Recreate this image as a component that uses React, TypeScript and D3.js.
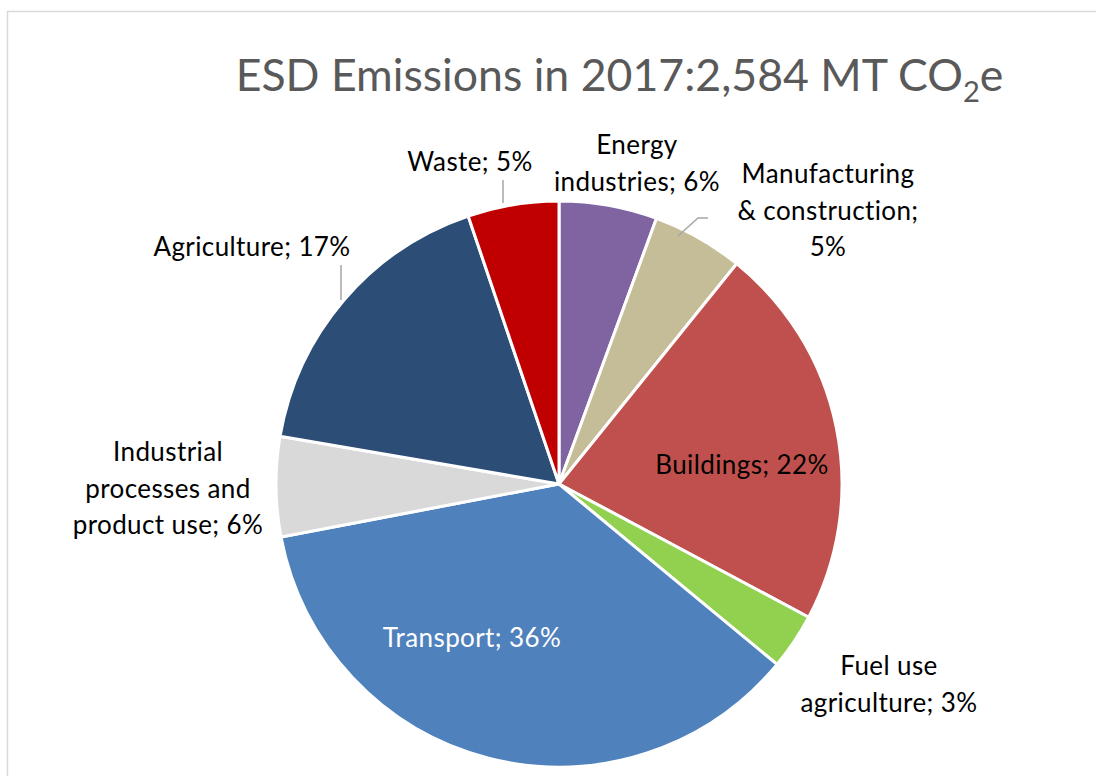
import React from "react";
import * as d3 from "d3";

const categories = [
  "Energy industries",
  "Manufacturing & construction",
  "Buildings",
  "Fuel use agriculture",
  "Transport",
  "Industrial processes and product use",
  "Agriculture",
  "Waste",
];
const values = [5.6, 5.2, 22.0, 3.2, 36.0, 5.7, 17.1, 5.2];
const percentLabels = ["6%", "5%", "22%", "3%", "36%", "6%", "17%", "5%"];
const colors = ["#8064A2", "#C4BD97", "#C0504D", "#92D050", "#4F81BD", "#D9D9D9", "#2C4D75", "#C00000"];

// label layout (lines and positions), separate from data
const labelLines = [
  ["Energy", "industries; 6%"],
  ["Manufacturing", "& construction;", "5%"],
  ["Buildings; 22%"],
  ["Fuel use", "agriculture; 3%"],
  ["Transport; 36%"],
  ["Industrial", "processes and", "product use; 6%"],
  ["Agriculture; 17%"],
  ["Waste; 5%"],
];
const labelXY: [number, number][] = [
  [637, 145],
  [828, 174],
  [742, 465],
  [889, 666],
  [472, 638],
  [168, 452],
  [252, 247],
  [470, 162],
];
const labelFill = ["#000", "#000", "#000", "#000", "#fff", "#000", "#000", "#000"];
const leaders: [number, number][][] = [
  [[678, 236], [698, 218], [708, 218]],
  [[341, 300], [341, 265]],
  [[503, 203], [503, 180]],
];

export default function App() {
  const W = 1096, H = 776;
  const cx = 559, cy = 484, r = 283;
  const pie = d3.pie<number>().sort(null).value((d) => d)(values);
  const arc = d3.arc<d3.PieArcDatum<number>>().innerRadius(0).outerRadius(r);
  const line = d3.line();
  const font = "Lato, 'Open Sans', sans-serif";
  const lh = 36.5;
  return (
    <svg width={W} height={H} style={{ position: "absolute", left: 0, top: 0 }}>
      <rect x={0} y={0} width={W} height={H} fill="#fff" />
      <rect x={7.5} y={11.5} width={W + 20} height={H + 20} fill="none" stroke="#D9D9D9" strokeWidth={1.5} />
      <text x={619.5} y={91} textAnchor="middle" fontFamily={font} fontSize={44.6} fill="#595959">
        ESD Emissions in 2017:2,584 MT CO
        <tspan dy={11} fontSize={29}>2</tspan>
        <tspan dy={-11}>e</tspan>
      </text>
      <g transform={`translate(${cx},${cy})`}>
        {pie.map((p, i) => (
          <path key={categories[i]} d={arc(p) || ""} fill={colors[i]} stroke="#fff" strokeWidth={3} strokeLinejoin="round" />
        ))}
      </g>
      {leaders.map((pts, i) => (
        <path key={i} d={line(pts) || ""} fill="none" stroke="#A6A6A6" strokeWidth={1.5} />
      ))}
      {labelLines.map((ls, i) => (
        <text key={i} textAnchor="middle" fontFamily={font} fontSize={26} letterSpacing={0.4} fill={labelFill[i]}>
          {ls.map((t, j) => (
            <tspan key={j} x={labelXY[i][0]} y={labelXY[i][1] + j * lh} dy="0.35em">
              {t}
            </tspan>
          ))}
        </text>
      ))}
    </svg>
  );
}
